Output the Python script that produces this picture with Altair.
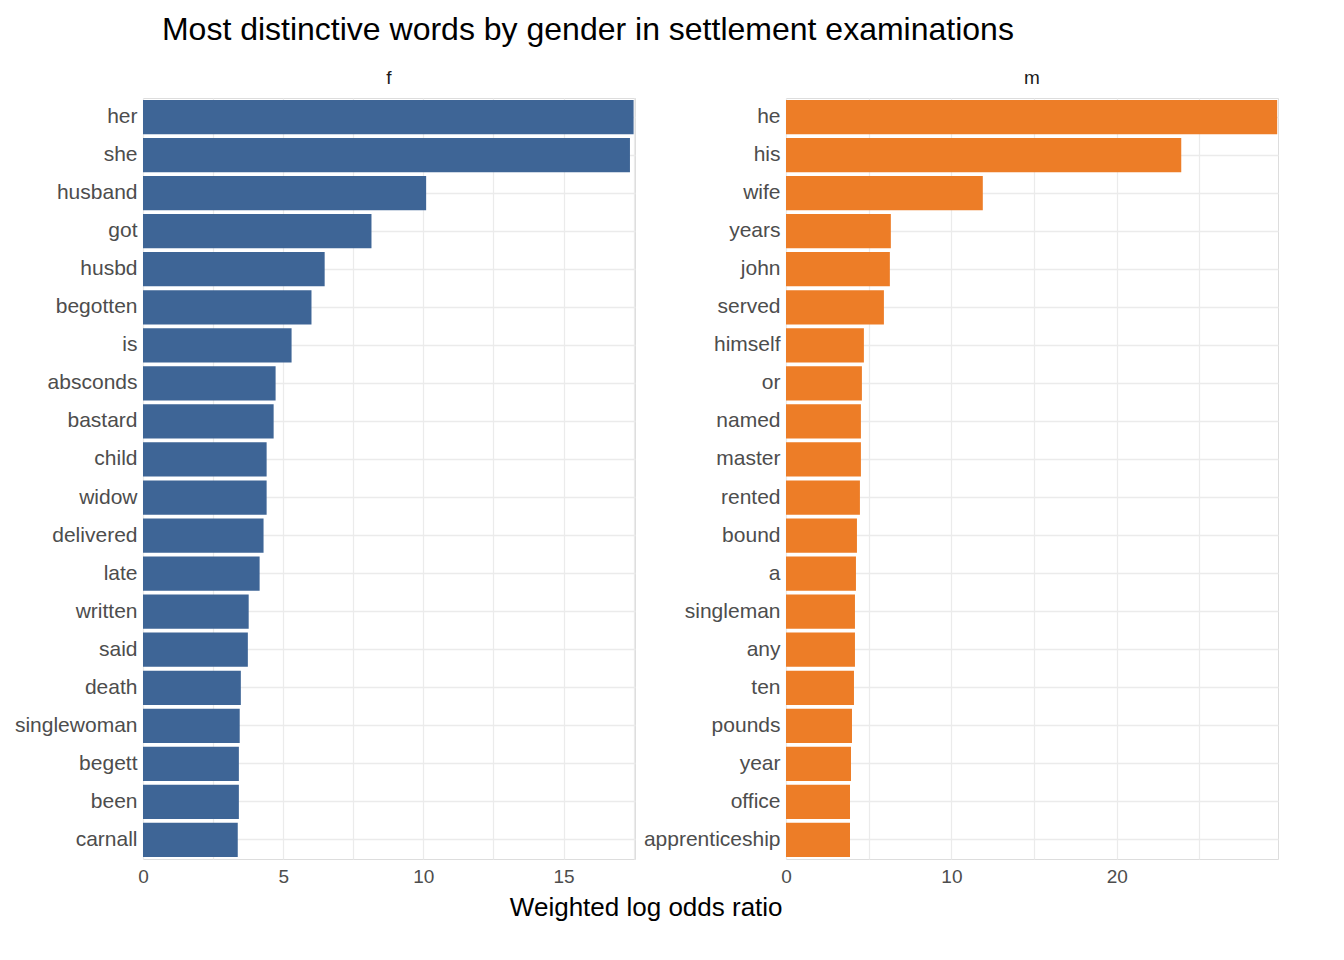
import altair as alt
import pandas as pd

f_words = ["her", "she", "husband", "got", "husbd", "begotten", "is", "absconds", "bastard", "child",
           "widow", "delivered", "late", "written", "said", "death", "singlewoman", "begett", "been", "carnall"]
f_values = [17.5, 17.37, 10.1, 8.15, 6.48, 6.01, 5.3, 4.73, 4.66, 4.41,
            4.41, 4.3, 4.16, 3.77, 3.74, 3.49, 3.45, 3.42, 3.42, 3.38]

m_words = ["he", "his", "wife", "years", "john", "served", "himself", "or", "named", "master",
           "rented", "bound", "a", "singleman", "any", "ten", "pounds", "year", "office", "apprenticeship"]
m_values = [29.7, 23.9, 11.9, 6.34, 6.28, 5.92, 4.71, 4.59, 4.53, 4.53,
            4.47, 4.29, 4.23, 4.17, 4.17, 4.11, 3.99, 3.93, 3.87, 3.87]

FONT = "Liberation Sans"


def panel(words, values, label, color, xmax, ticks, step):
    df = pd.DataFrame({"word": words, "value": values})
    return alt.Chart(df).mark_bar(color=color).encode(
        alt.X("value:Q", title=None,
              scale=alt.Scale(domain=[0, xmax], nice=False, zero=True),
              axis=alt.Axis(values=ticks, labelExpr=f"datum.value % {step} == 0 ? datum.label : ''",
                            gridColor="#ebebeb", gridWidth=1.2, domain=False, ticks=False,
                            labelFlush=False, labelFontSize=19, labelColor="#4d4d4d", labelPadding=8)),
        alt.Y("word:N", sort=words, title=None,
              scale=alt.Scale(paddingInner=0.1, paddingOuter=0.05),
              axis=alt.Axis(grid=True, bandPosition=0.5, gridColor="#ebebeb", gridWidth=1.5,
                            domain=False, ticks=False, labelFontSize=21, labelColor="#4d4d4d",
                            labelPadding=6)),
    ).properties(
        width=492, height=761,
        title=alt.TitleParams(label, fontSize=19, fontWeight="normal", color="#1a1a1a",
                              anchor="middle", font=FONT, offset=10)
    )


left = panel(f_words, f_values, "f", "#3e6596", 17.55,
             [0, 2.5, 5, 7.5, 10, 12.5, 15, 17.5], 5)
right = panel(m_words, m_values, "m", "#ed7d27", 29.75,
              [0, 5, 10, 15, 20, 25], 10)

inner = alt.hconcat(left, right, spacing=6).properties(
    title=alt.TitleParams("Weighted log odds ratio", orient="bottom", anchor="middle",
                          fontSize=26, fontWeight="normal", font=FONT, color="#000000", offset=8)
)

chart = alt.vconcat(inner).properties(
    title=alt.TitleParams("Most distinctive words by gender in settlement examinations",
                          fontSize=32, fontWeight="normal", font=FONT, color="#000000",
                          anchor="start", offset=22, dx=148)
).configure_view(stroke=None).configure(font=FONT)

chart.save("out.html", embed_options={"renderer": "svg", "actions": False})
